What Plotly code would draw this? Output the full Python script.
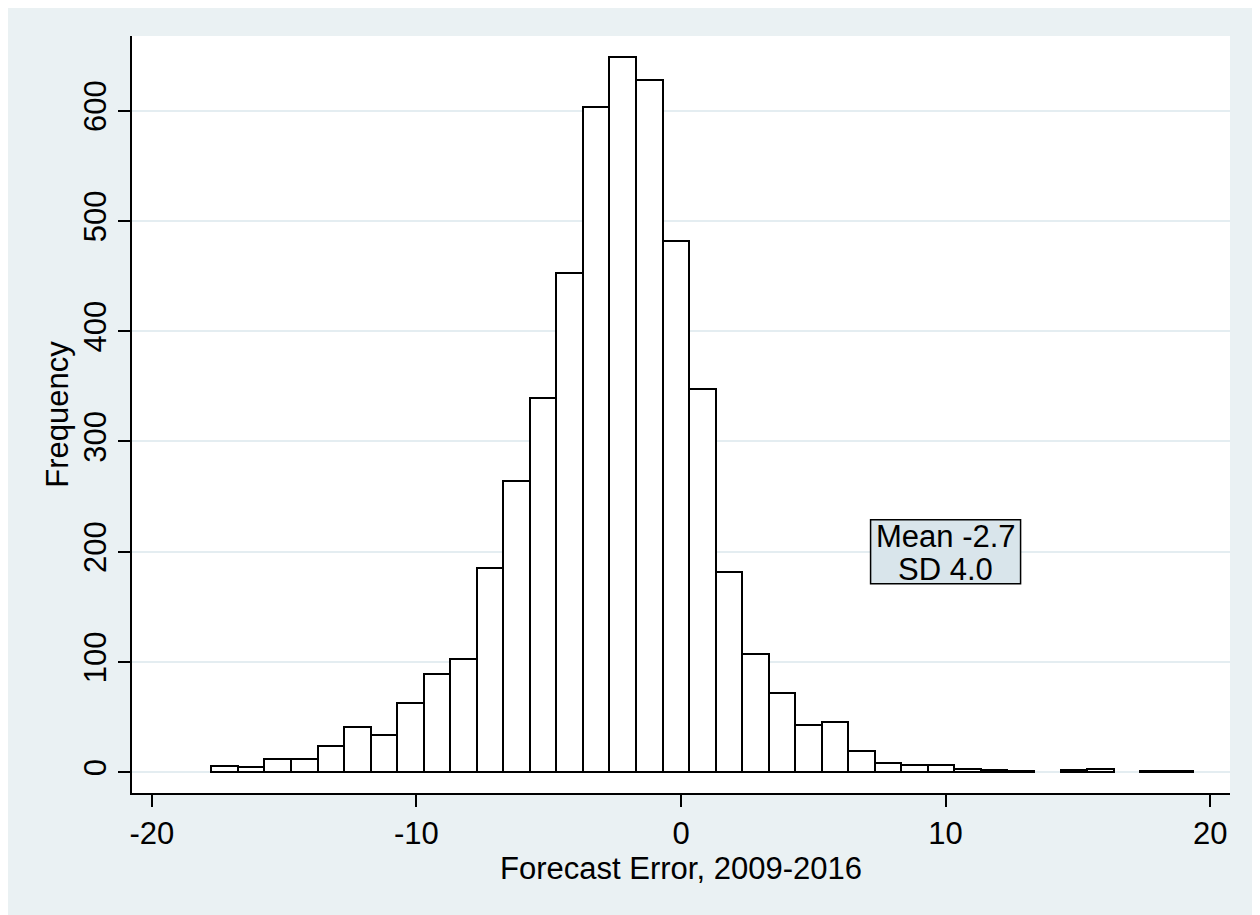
import plotly.graph_objects as go

# ---- data ----
bin_start = -17.75
bin_width = 1.003
counts = [6, 5, 12, 12, 24, 41, 34, 63, 89, 103, 185, 264, 339, 453, 603, 649,
          628, 482, 348, 182, 107, 72, 43, 46, 19, 8, 7, 7, 3, 2, 1, 0, 2, 3, 0, 1, 1]
x_ticks = [-20, -10, 0, 10, 20]
y_ticks = [0, 100, 200, 300, 400, 500, 600]
stats_text = ["Mean -2.7", "SD 4.0"]
stats_pos = (10, 200)
x_title = "Forecast Error, 2009-2016"
y_title = "Frequency"

centers = [bin_start + bin_width * (i + 0.5) for i in range(len(counts))]
heights = [c if c > 0 else None for c in counts]

BG = "#eaf1f3"
GRID = "#e4edf1"
BOX = "#d9e5eb"
FONT = "Liberation Sans, Arial, sans-serif"
FS = 31

fig = go.Figure()
fig.add_trace(go.Bar(
    x=centers, y=heights, width=bin_width,
    marker=dict(color="white", line=dict(color="black", width=2)),
    hoverinfo="x+y",
))

# page body has an 8px margin, so the figure is sized to fill the rest of the window
W, H = 1252, 907
L, R, T, B = 124, 30, 28, 122

shapes = [
    dict(type="rect", xref="x", yref="y", xsizemode="pixel", ysizemode="pixel",
         xanchor=stats_pos[0], yanchor=stats_pos[1], x0=-75, x1=75, y0=-32, y1=32,
         fillcolor=BOX, line=dict(color="black", width=1.5), layer="above"),
]

annotations = [
    dict(x=stats_pos[0], y=stats_pos[1], xref="x", yref="y", text=stats_text[0],
         showarrow=False, yshift=15, font=dict(family=FONT, size=FS, color="black")),
    dict(x=stats_pos[0], y=stats_pos[1], xref="x", yref="y", text=stats_text[1],
         showarrow=False, yshift=-18, font=dict(family=FONT, size=FS, color="black")),
]

fig.update_layout(
    width=W, height=H,
    margin=dict(l=L, r=R, t=T, b=B, pad=0),
    paper_bgcolor=BG, plot_bgcolor="white",
    bargap=0, showlegend=False,
    font=dict(family=FONT, size=FS, color="black"),
    shapes=shapes, annotations=annotations,
    xaxis=dict(
        range=[-20.75, 20.75], tickvals=x_ticks, ticktext=[str(v) for v in x_ticks],
        showgrid=False, zeroline=False, showline=True, linecolor="black", linewidth=1.5,
        ticks="outside", ticklen=12, tickwidth=1.5, tickcolor="black",
        tickfont=dict(family=FONT, size=FS),
        title=dict(text=x_title, font=dict(family=FONT, size=FS), standoff=0),
    ),
    yaxis=dict(
        range=[-18.8, 667.7], tickvals=y_ticks, ticktext=[str(v) for v in y_ticks],
        tickangle=-90,
        showgrid=True, gridcolor=GRID, gridwidth=2, zeroline=False,
        showline=True, linecolor="black", linewidth=1.5,
        ticks="outside", ticklen=12, tickwidth=1.5, tickcolor="black",
        tickfont=dict(family=FONT, size=FS),
        title=dict(text=y_title, font=dict(family=FONT, size=FS), standoff=0),
    ),
)

fig.write_html("out.html")
